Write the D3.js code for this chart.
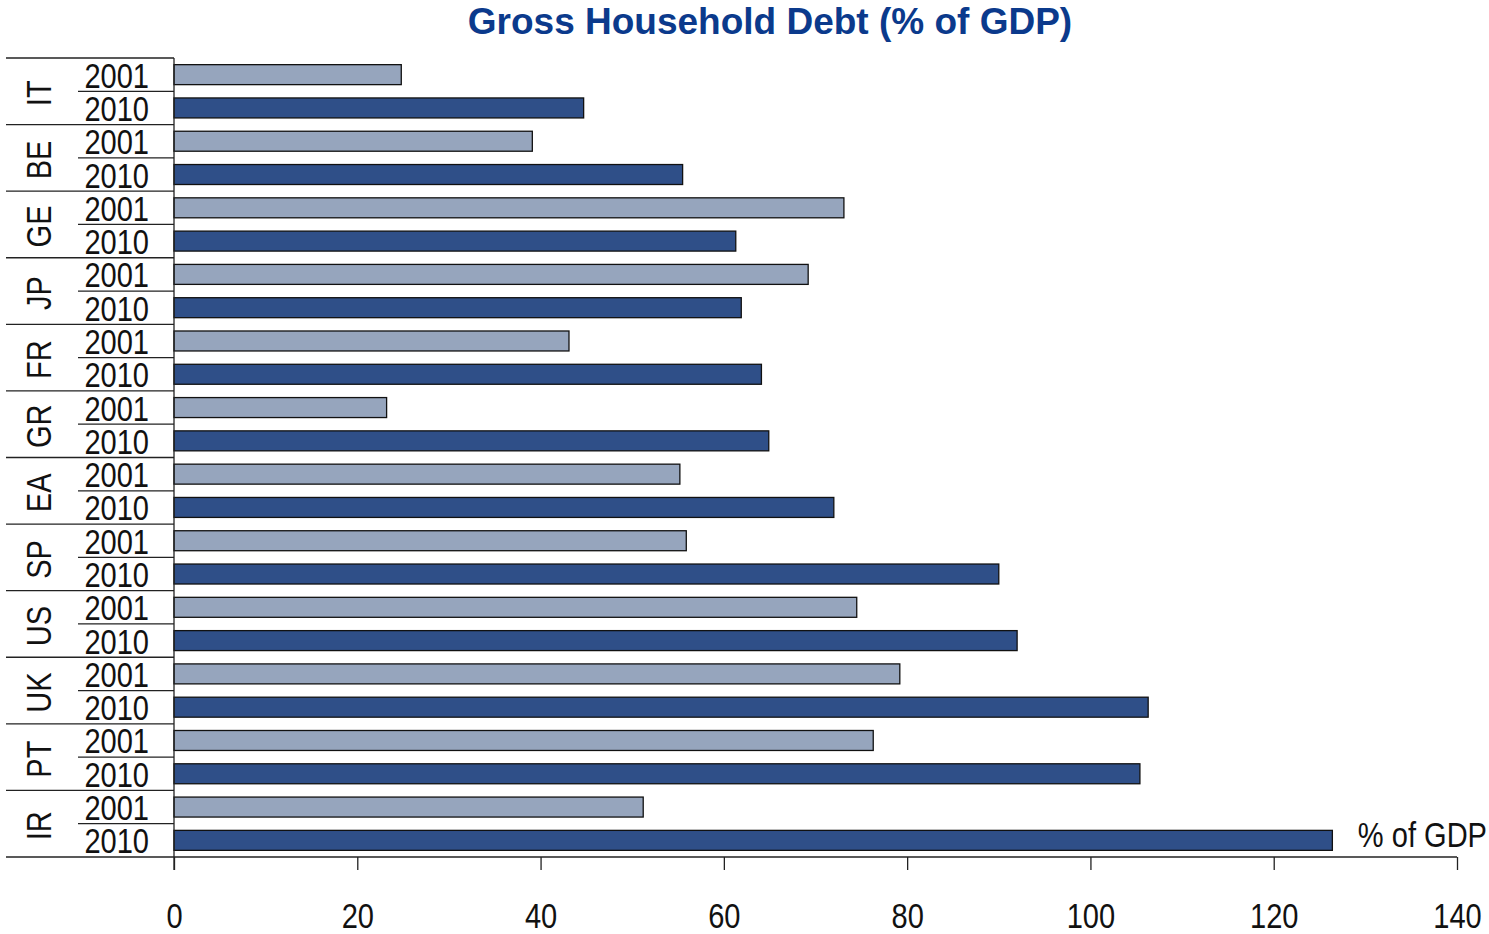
<!DOCTYPE html>
<html><head><meta charset="utf-8">
<script src="https://cdn.jsdelivr.net/npm/d3@7"></script>
<style>body{margin:0;background:#fff;} text{font-family:"Liberation Sans",Arial,sans-serif;}</style>
</head><body><svg id="c" width="1489" height="934"></svg>
<script>
const countries = ["IT","BE","GE","JP","FR","GR","EA","SP","US","UK","PT","IR"];
const years = ["2001","2010"];
const values2001 = [24.8,39.1,73.1,69.2,43.1,23.2,55.2,55.9,74.5,79.2,76.3,51.2];
const values2010 = [44.7,55.5,61.3,61.9,64.1,64.9,72.0,90.0,92.0,106.3,105.4,126.4];
const xTicks = [0,20,40,60,80,100,120,140];
const colors = {"2001":"#96a5bd","2010":"#2f4f88"};

const SX = 0.83;
const svg = d3.select("#c");
const mLeft = 174, mRight = 1457, mTop = 58, mBottom = 857;
const x = d3.scaleLinear().domain([0,140]).range([mLeft,mRight]);
const yC = d3.scaleBand().domain(countries).range([mTop,mBottom]);
const yY = d3.scaleBand().domain(years).range([0,yC.bandwidth()]).paddingInner(0.4).paddingOuter(0.2);
const yYfull = d3.scaleBand().domain(years).range([0,yC.bandwidth()]);

svg.append("text").attr("x",770).attr("y",34).attr("text-anchor","middle")
  .style("font-weight","bold")
  .style("font-size","37px").attr("fill","#0b3a8c").text("Gross Household Debt (% of GDP)");

const rows = [];
countries.forEach((c,i)=>{ rows.push({c,yr:"2001",v:values2001[i]}); rows.push({c,yr:"2010",v:values2010[i]}); });

svg.append("g").selectAll("rect").data(rows).join("rect")
  .attr("x",x(0)).attr("y",d=>yC(d.c)+yY(d.yr)).attr("width",d=>x(d.v)-x(0))
  .attr("height",yY.bandwidth()).attr("fill",d=>colors[d.yr]).attr("stroke","#111").attr("stroke-width",1.3);

function ctext(parent, tx, ty, rot, anchor, str){
  parent.append("g").attr("transform",`translate(${tx},${ty}) rotate(${rot}) scale(${SX},1)`)
    .append("text").attr("text-anchor",anchor).style("font-size","35px").attr("fill","#111").text(str);
}

const g = svg.append("g");
countries.forEach(c=>{
  g.append("line").attr("x1",6).attr("x2",mLeft).attr("y1",yC(c)).attr("y2",yC(c)).attr("stroke","#222").attr("stroke-width",1.3);
  g.append("line").attr("x1",78).attr("x2",mLeft).attr("y1",yC(c)+yYfull("2010")).attr("y2",yC(c)+yYfull("2010")).attr("stroke","#222").attr("stroke-width",1.3);
  ctext(g, 51, yC(c)+yC.bandwidth()/2+2, -90, "middle", c);
  years.forEach(yr=>{
    ctext(g, 149, yC(c)+yYfull(yr)+yYfull.bandwidth()/2+13, 0, "end", yr);
  });
});
g.append("line").attr("x1",mLeft).attr("x2",mLeft).attr("y1",mTop).attr("y2",mBottom+13).attr("stroke","#222").attr("stroke-width",1.3);

const xa = svg.append("g").attr("transform",`translate(0,${mBottom})`)
  .call(d3.axisBottom(x).tickValues(xTicks).tickSize(13).tickSizeOuter(0));
xa.select(".domain").remove();
xa.append("line").attr("x1",6).attr("x2",mRight).attr("stroke","#222").attr("stroke-width",1.3);
xa.selectAll(".tick line").attr("stroke","#222").attr("stroke-width",1.3);
xa.selectAll(".tick text").remove();
xa.selectAll(".tick").each(function(d){
  ctext(d3.select(this), 0, 71, 0, "middle", String(d));
});

ctext(svg, 1487, 847, 0, "end", "% of GDP");
</script></body></html>
